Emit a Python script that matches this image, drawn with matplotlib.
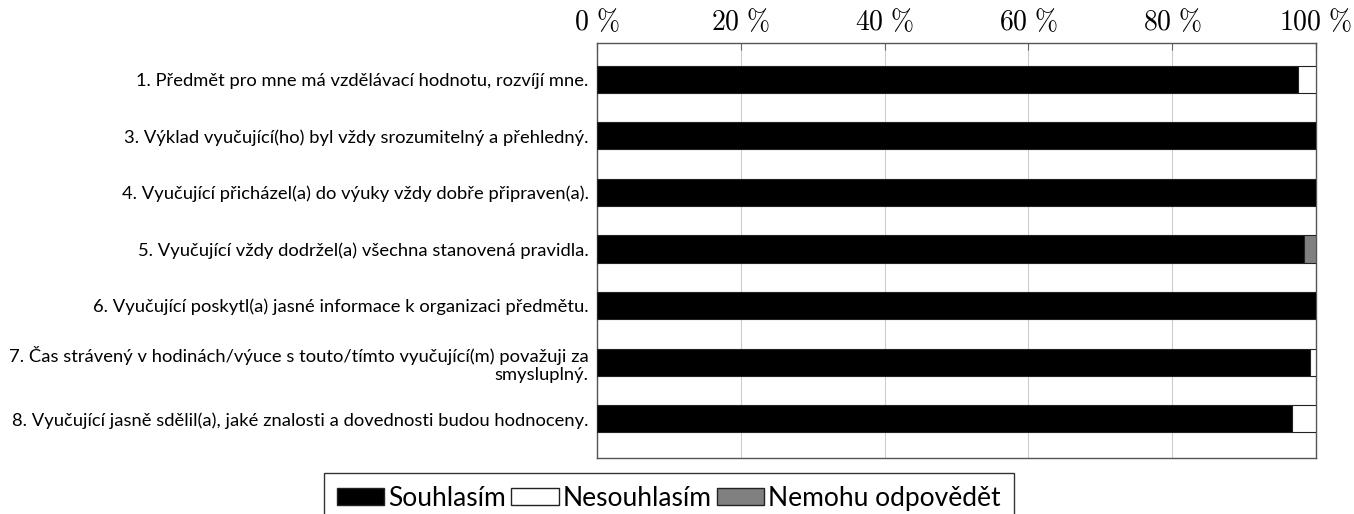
import numpy as np
import matplotlib
matplotlib.use("Agg")
import matplotlib.pyplot as plt
import matplotlib.patches as mpatches

plt.rcParams['font.family'] = ['Lato', 'DejaVu Sans']
plt.rcParams['mathtext.fontset'] = 'cm'

questions = [
    "1. Předmět pro mne má vzdělávací hodnotu, rozvíjí mne.",
    "3. Výklad vyučující(ho) byl vždy srozumitelný a přehledný.",
    "4. Vyučující přicházel(a) do výuky vždy dobře připraven(a).",
    "5. Vyučující vždy dodržel(a) všechna stanovená pravidla.",
    "6. Vyučující poskytl(a) jasné informace k organizaci předmětu.",
    "7. Čas strávený v hodinách/výuce s touto/tímto vyučující(m) považuji za\nsmysluplný.",
    "8. Vyučující jasně sdělil(a), jaké znalosti a dovednosti budou hodnoceny.",
]
souhlasim = [97.5, 100, 100, 98.3, 100, 99.1, 96.6]
nesouhlasim = [2.5, 0, 0, 0, 0, 0.9, 3.4]
nemohu = [0, 0, 0, 1.7, 0, 0, 0]
series_names = ["Souhlasím", "Nesouhlasím", "Nemohu odpovědět"]
colors = ["black", "white", "#808080"]
xticks = [0, 20, 40, 60, 80, 100]

fig = plt.figure(figsize=(13.54, 5.14), dpi=100)
ax = fig.add_axes([0.441, 0.109, 0.531, 0.807])

y = np.arange(len(questions))
left = np.zeros(len(questions))
for vals, col in zip([souhlasim, nesouhlasim, nemohu], colors):
    vals = np.array(vals)
    ax.barh(y, vals, left=left, height=0.48, color=col, edgecolor='#222222',
            linewidth=0.8, zorder=3)
    left += vals

ax.set_xlim(0, 100)
ax.set_ylim(6.69, -0.635)
ax.set_yticks(y)
ax.set_yticklabels(questions, fontsize=13.2, linespacing=1.1)
ax.tick_params(axis='y', length=0, pad=6)
ax.xaxis.tick_top()
ax.set_xticks(xticks)
ax.set_xticklabels([r'$%d\ \%%$' % t for t in xticks], fontsize=20)
ax.tick_params(axis='x', direction='in', length=5, color='#666666', pad=6)
ax.grid(axis='x', color='#cccccc', linewidth=0.8, zorder=0)
for s in ax.spines.values():
    s.set_color('#555555')
    s.set_linewidth(1.0)

handles = [mpatches.Patch(facecolor=c, edgecolor='#222222', label=n)
           for c, n in zip(colors, series_names)]
fig.legend(handles=handles, loc='lower center', bbox_to_anchor=(0.494, -0.02),
           ncol=3, fontsize=19, frameon=True, fancybox=False, edgecolor='black',
           handlelength=1.8, handleheight=0.6, handletextpad=0.15,
           columnspacing=0.2, borderpad=0.5, borderaxespad=0.0)

fig.savefig("out.png", dpi=100)
